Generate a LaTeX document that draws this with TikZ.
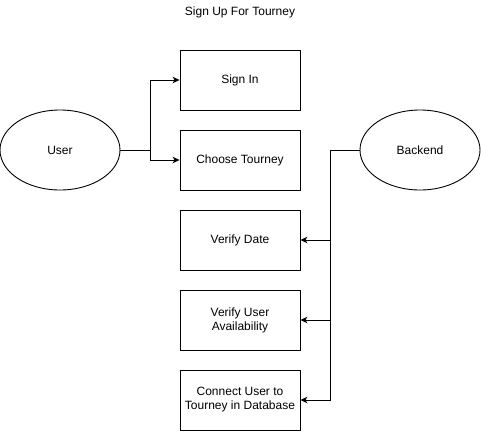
\documentclass[tikz,border=0pt]{standalone}
\usepackage{fontspec}
\setmainfont{Liberation Sans}
\usetikzlibrary{arrows.meta,shapes.geometric}

\tikzset{
	stepbox/.style={draw,line width=0.9pt,minimum width=120pt,minimum height=60pt,inner sep=0pt,align=center,font=\fontsize{12}{14}\selectfont},
	actor/.style={draw,ellipse,line width=0.9pt,minimum width=120pt,minimum height=80pt,inner sep=0pt,font=\fontsize{12}{14}\selectfont},
	link/.style={line width=0.9pt,-{Stealth[length=7pt,width=6.5pt,inset=2pt]}}
}

\begin{document}
\begin{tikzpicture}[x=1pt,y=-1pt]
	\useasboundingbox (0,0) rectangle (481,431);
	\node[font=\fontsize{12}{14}\selectfont] (title) at (240,12) {Sign Up For Tourney};
%
	\node[actor] (user) at (60,150) {User};
	\node[actor] (backend) at (420,150) {Backend};
%
	\node[stepbox] (signin) at (240,80) {Sign In};
	\node[stepbox] (choose) at (240,160) {Choose Tourney};
	\node[stepbox] (date) at (240,240) {Verify Date};
	\node[stepbox] (avail) at (240,320) {Verify User\\Availability};
	\node[stepbox] (connect) at (240,400) {Connect User to\\Tourney in Database};
%
	\coordinate (userjoint) at (150,150);
	\coordinate (backjoint) at (330,150);
	\draw[link] (user.east) -- (userjoint) |- (signin.west);
	\draw[link] (userjoint) |- (choose.west);
	\draw[link] (backend.west) -- (backjoint) |- (date.east);
	\draw[link] (backjoint) |- (avail.east);
	\draw[link] (backjoint) |- (connect.east);
\end{tikzpicture}
\end{document}
